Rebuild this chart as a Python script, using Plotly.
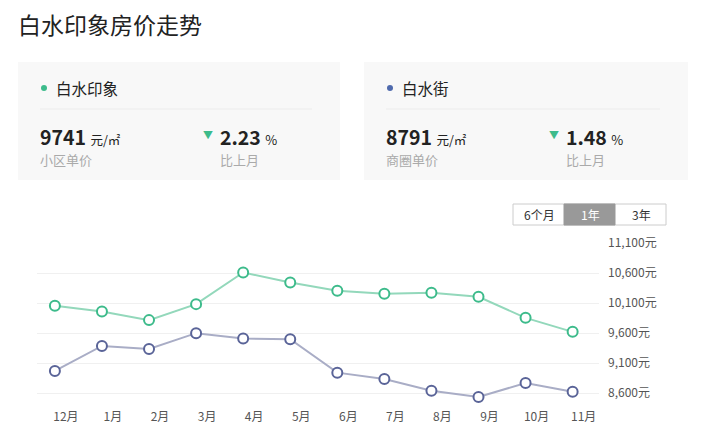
import plotly.graph_objects as go

months = ["12月", "1月", "2月", "3月", "4月", "5月", "6月", "7月", "8月", "9月", "10月", "11月"]
community_price = [10055, 9960, 9817, 10083, 10610, 10443, 10305, 10255, 10272, 10205, 9855, 9622]
district_price = [8972, 9388, 9338, 9600, 9510, 9500, 8943, 8838, 8643, 8538, 8772, 8627]
y_ticks = [8600, 9100, 9600, 10100, 10600, 11100]
community_name = "白水印象"
district_name = "白水街"

OFF = 8  # page body margin
W, H = 727, 443
L = 37 - OFF
R = W - (599 - OFF)
T = 243 - OFF
B = H - (408 - OFF)
PW, PH = W - L - R, H - T - B

def px(x):
    return (x - OFF - L) / PW

def py(y):
    return (H - B - (y - OFF)) / PH

FONT = "Noto Sans CJK SC"
GREEN_LINE = "#93d8bb"
GREEN_MK = "#3dbb8b"
BLUE_LINE = "#a9adc6"
BLUE_MK = "#5a6498"
BLUE_DOT = "#4f6aad"

xs = list(range(len(months)))
fig = go.Figure()
fig.add_trace(go.Scatter(
    x=xs, y=community_price, mode="lines+markers", name=community_name,
    line=dict(color=GREEN_LINE, width=2),
    marker=dict(size=10, color="white", line=dict(color=GREEN_MK, width=2)),
))
fig.add_trace(go.Scatter(
    x=xs, y=district_price, mode="lines+markers", name=district_name,
    line=dict(color=BLUE_LINE, width=2),
    marker=dict(size=10, color="white", line=dict(color=BLUE_MK, width=2)),
))

shapes = []
annotations = []

def rect(x0, y0, x1, y1, fill, line=None):
    shapes.append(dict(type="rect", xref="paper", yref="paper",
                       x0=px(x0), x1=px(x1), y0=py(y0), y1=py(y1),
                       fillcolor=fill, line=dict(width=1 if line else 0, color=line or fill),
                       layer="below"))

def text(x, y, s, size, color="#222", anchor="left"):
    annotations.append(dict(xref="paper", yref="paper", x=px(x), y=py(y), text=s,
                            showarrow=False, xanchor=anchor, yanchor="middle",
                            font=dict(size=size, color=color, family=FONT)))

# Title
text(16, 23.5, "白水印象房价走势", 23, "#222")

# Cards
cards = [
    (18, 340, GREEN_MK, community_name, "9741", "小区单价", "2.23"),
    (364, 688, BLUE_DOT, district_name, "8791", "商圈单价", "1.48"),
]
for x0, x1, dot, name, price, label, pct in cards:
    rect(x0, 62, x1, 180, "#f8f8f8")
    shapes.append(dict(type="line", xref="paper", yref="paper",
                       x0=px(x0 + 22), x1=px(x1 - 28), y0=py(109), y1=py(109),
                       line=dict(color="#ececec", width=1)))
    shapes.append(dict(type="circle", xref="paper", yref="paper",
                       x0=px(x0 + 23), x1=px(x0 + 29), y0=py(85), y1=py(91),
                       fillcolor=dot, line=dict(width=0)))
    text(x0 + 36, 88, name, 15.5, "#222")
    text(x0 + 20, 136, f"<b>{price}</b> <span style='font-size:12.5px'>元/㎡</span>", 19.5, "#222")
    text(x0 + 20, 159.5, label, 13, "#aaa")
    text(x0 + 183, 134, "▼", 10, GREEN_MK)
    text(x0 + 200, 136, f"<b>{pct}</b> <span style='font-size:13px'>%</span>", 19.5, "#222")
    text(x0 + 200, 159.5, "比上月", 13, "#aaa")

# Range buttons
rect(513, 204, 666, 225, "white", "#cccccc")
rect(564, 204, 615, 225, "#999999", "#999999")
text(539, 214.5, "6个月", 12, "#333", "center")
text(590, 214.5, "1年", 12, "white", "center")
text(641, 214.5, "3年", 12, "#333", "center")

fig.update_layout(
    width=W, height=H,
    margin=dict(l=L, r=R, t=T, b=B),
    paper_bgcolor="white", plot_bgcolor="white",
    showlegend=False,
    font=dict(family=FONT, color="#555", size=12),
    shapes=shapes, annotations=annotations,
    xaxis=dict(range=[-0.38, 11.56], tickmode="array", tickvals=xs, ticktext=months,
               showgrid=False, zeroline=False, showline=False, ticks="",
               ticklabelshift=11, tickfont=dict(size=12, color="#555")),
    yaxis=dict(side="right", range=[8355, 11100], tickmode="array", tickvals=y_ticks,
               ticktext=[f"{v:,}元" for v in y_ticks],
               showgrid=True, gridcolor="#f0f0f0", gridwidth=1, zeroline=False,
               showline=False, ticks="", ticklabelstandoff=8,
               tickfont=dict(size=12, color="#555")),
)

fig.write_html("out.html")
